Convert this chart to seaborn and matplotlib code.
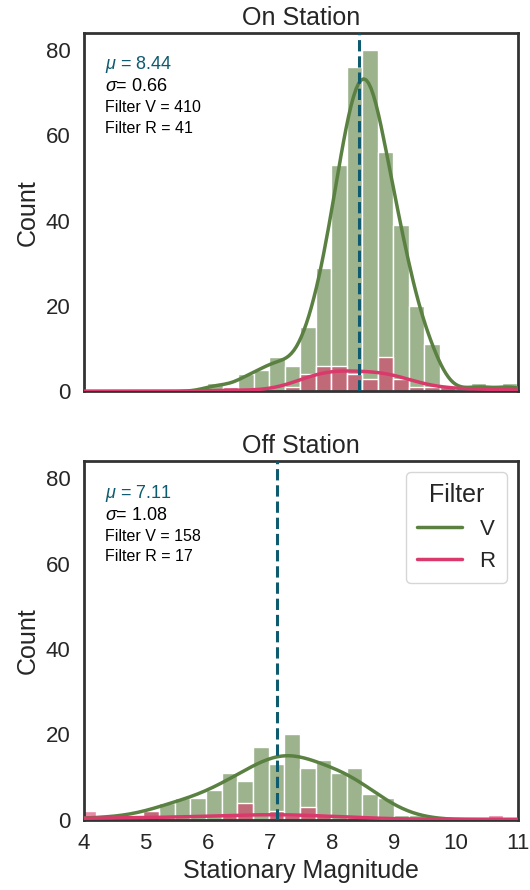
import numpy as np
import pandas as pd
import matplotlib.pyplot as plt
from matplotlib.lines import Line2D
from matplotlib.ticker import MultipleLocator
import seaborn as sns

# histogram counts per bin
on_bin_start = 3.99
on_bin_width = 0.25
on_v = [0, 0, 0, 0, 0, 0, 0, 0, 2, 1, 4, 5, 8, 6, 15, 29, 53, 76, 80, 56, 39, 20, 11, 1, 0, 2, 0, 2]
on_r = [0, 0, 0, 0, 0, 0, 0, 0, 0, 1, 0, 0, 0, 1, 4, 6, 6, 4, 3, 8, 3, 1, 1, 1, 0, 1, 0, 1]
on_mu, on_sigma = 8.44, 0.66

off_bin_start = 3.95
off_bin_width = 0.2525
off_v = [1, 0, 1, 1, 2, 4, 5, 5, 7, 11, 9, 17, 13, 20, 12, 14, 11, 12, 6, 5, 1, 1, 0, 0, 0, 0, 0, 0]
off_r = [2, 0, 0, 0, 2, 0, 0, 0, 0, 1, 4, 0, 2, 1, 3, 1, 0, 0, 0, 0, 0, 0, 0, 0, 0, 0, 1, 0]
off_mu, off_sigma = 7.11, 1.08

titles = ['On Station', 'Off Station']
filters = ['V', 'R']
palette = {'V': '#5b8142', 'R': '#d93a6b'}
mean_color = '#0e5a6e'

sns.set_theme(style='white')
plt.rcParams['font.family'] = ['Liberation Sans', 'DejaVu Sans']
plt.rcParams['mathtext.fontset'] = 'custom'
plt.rcParams['mathtext.rm'] = 'Liberation Sans'
plt.rcParams['mathtext.it'] = 'Liberation Sans:italic'
plt.rcParams['axes.linewidth'] = 2
plt.rcParams['axes.edgecolor'] = '.2'

panels = [
    (on_bin_start, on_bin_width, {'V': on_v, 'R': on_r}, on_mu, on_sigma),
    (off_bin_start, off_bin_width, {'V': off_v, 'R': off_r}, off_mu, off_sigma),
]

fig, axes = plt.subplots(2, 1, figsize=(5.3, 8.9), dpi=100, sharex=True, sharey=True)
fig.subplots_adjust(left=0.158, right=0.977, top=0.963, bottom=0.079, hspace=0.195)

for ax, title, (start, width, counts, mu, sigma) in zip(axes, titles, panels):
    n = len(counts['V'])
    centers = start + width * (np.arange(n) + 0.5)
    for f in filters:
        df = pd.DataFrame({'mag': centers, 'count': counts[f]})
        # Scott's factor from the real number of stars, not the number of bins
        sns.histplot(data=df, x='mag', weights='count', binrange=(start, start + width * n),
                     binwidth=width, kde=True, color=palette[f], alpha=0.6,
                     edgecolor='white', linewidth=1, line_kws={'linewidth': 2.5},
                     kde_kws={'cut': 1, 'bw_method': sum(counts[f]) ** -0.2}, ax=ax)
    for line in ax.lines:
        line.set_zorder(3)
    ax.axvline(mu, color=mean_color, linestyle='--', linewidth=2.2, zorder=4)
    ax.set_title(title, fontsize=18)
    ax.set_ylabel('Count', fontsize=18)
    ax.set_xlabel('')
    ax.tick_params(labelsize=16)
    ax.text(0.05, 0.911, rf'$\mu$ = {mu:.2f}', transform=ax.transAxes, color=mean_color,
            fontsize=13, va='center')
    ax.text(0.05, 0.850, rf'$\sigma$= {sigma:.2f}', transform=ax.transAxes, color='black',
            fontsize=13, va='center')
    ax.text(0.05, 0.791, f"Filter V = {sum(counts['V'])}", transform=ax.transAxes,
            color='black', fontsize=11.5, va='center')
    ax.text(0.05, 0.733, f"Filter R = {sum(counts['R'])}", transform=ax.transAxes,
            color='black', fontsize=11.5, va='center')

axes[0].set_xlim(4, 11)
axes[0].xaxis.set_major_locator(MultipleLocator(1))
axes[1].set_xlabel('Stationary Magnitude', fontsize=18)

handles = [Line2D([], [], color=palette[f], linewidth=2.5) for f in filters]
axes[1].legend(handles, filters, title='Filter', loc='upper right', fontsize=16,
               title_fontsize=18, handlelength=2.0, borderpad=0.5)

fig.savefig('out.png', dpi=100)
